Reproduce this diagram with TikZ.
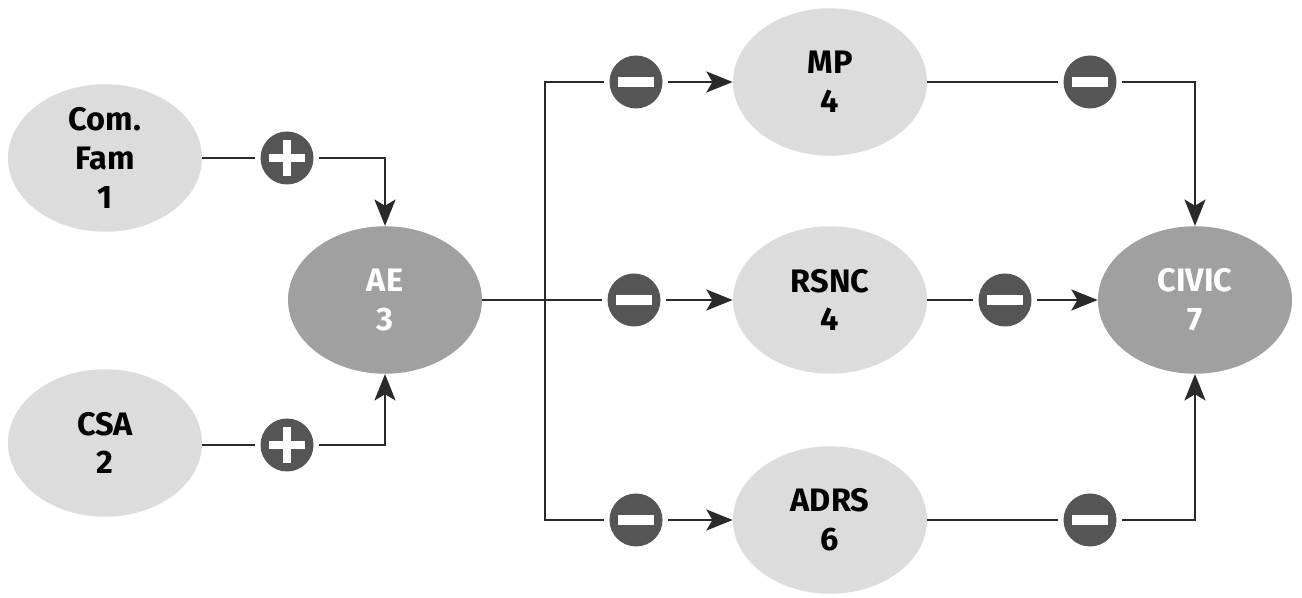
\documentclass[tikz,border=0pt]{standalone}
\usepackage{fontspec}
\setmainfont{Fira Sans}
\usetikzlibrary{shapes.geometric,arrows.meta}
\definecolor{lightell}{HTML}{DCDCDC}
\definecolor{darkell}{HTML}{A0A0A0}
\definecolor{signfill}{HTML}{555555}
\definecolor{linegray}{HTML}{2A2A2A}
\tikzset{
  var/.style={ellipse,fill=lightell,minimum width=3.88cm,minimum height=2.95cm,
    inner sep=0pt,align=center,font=\fontsize{18.5}{22}\selectfont\bfseries},
  outcome/.style={var,fill=darkell,text=white},
  sign/.style={circle,fill=signfill,minimum size=1.06cm,inner sep=0pt,outer sep=3pt},
  plus/.style={sign,path picture={
      \fill[white] ($(path picture bounding box.center)+(-0.36,-0.08)$) rectangle ++(0.72,0.16);
      \fill[white] ($(path picture bounding box.center)+(-0.08,-0.36)$) rectangle ++(0.16,0.72);}},
  minus/.style={sign,path picture={
      \fill[white] ($(path picture bounding box.center)+(-0.36,-0.1)$) rectangle ++(0.72,0.2);}},
  link/.style={draw=linegray,line width=1.2pt},
  arr/.style={link,-{Stealth[length=15pt,width=12pt,inset=3.5pt]}}
}
\usetikzlibrary{calc}
\begin{document}
\begin{tikzpicture}
  \useasboundingbox (0,0) rectangle (26.04,11.96);
  % variables
  \node[var] (comfam) at (2.1,8.8) {Com.\\Fam\\1};
  \node[var] (csa) at (2.1,3.1) {CSA\\2};
  \node[outcome] (ae) at (7.7,5.96) {AE\\3};
  \node[var] (mp) at (16.6,10.32) {MP\\4};
  \node[var] (rsnc) at (16.6,5.96) {RSNC\\4};
  \node[var] (adrs) at (16.6,1.56) {ADRS\\6};
  \node[outcome] (civic) at (23.9,5.96) {CIVIC\\7};
  % signs
  \node[plus] (p1) at (5.74,8.8) {};
  \node[plus] (p2) at (5.74,3.06) {};
  \node[minus] (m1) at (12.72,10.32) {};
  \node[minus] (m2) at (12.68,5.96) {};
  \node[minus] (m3) at (12.72,1.56) {};
  \node[minus] (m4) at (21.8,10.32) {};
  \node[minus] (m5) at (20.1,5.96) {};
  \node[minus] (m6) at (21.8,1.56) {};
  \coordinate (jtop) at (10.9,10.32);
  \coordinate (jbot) at (10.9,1.56);
  % links
  \path[link] (comfam.east |- p1) -- (p1);
  \path[arr] (p1) -| (ae);
  \path[link] (csa.east |- p2) -- (p2);
  \path[arr] (p2) -| (ae);
  \path[link] (ae) -- (m2);
  \path[link] (m1) -- (jtop) -- (jbot) -- (m3);
  \path[arr] (m1) -- (mp);
  \path[arr] (m2) -- (rsnc);
  \path[arr] (m3) -- (adrs);
  \path[link] (mp) -- (m4);
  \path[arr] (m4) -| (civic);
  \path[link] (rsnc) -- (m5);
  \path[arr] (m5) -- (civic);
  \path[link] (adrs) -- (m6);
  \path[arr] (m6) -| (civic);
\end{tikzpicture}
\end{document}
